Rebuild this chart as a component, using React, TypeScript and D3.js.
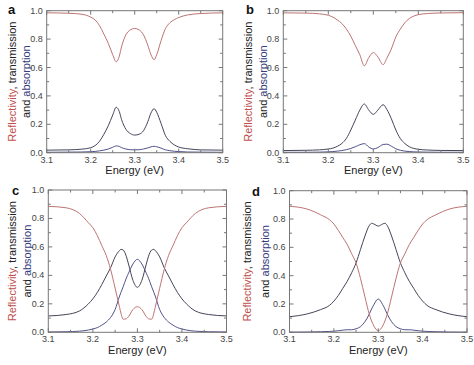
import React from 'react';
import * as d3 from 'd3';

// ---------- data ----------
const energyA = [3.10, 3.15, 3.18, 3.20, 3.21, 3.22, 3.23, 3.24, 3.25, 3.258, 3.265, 3.27, 3.28, 3.29, 3.30, 3.31, 3.32, 3.33, 3.337, 3.344, 3.35, 3.36, 3.37, 3.38, 3.39, 3.40, 3.42, 3.45, 3.50];
const reflA = [0.985, 0.982, 0.975, 0.955, 0.935, 0.895, 0.835, 0.77, 0.69, 0.64, 0.68, 0.745, 0.83, 0.865, 0.875, 0.865, 0.83, 0.755, 0.69, 0.655, 0.69, 0.79, 0.875, 0.915, 0.937, 0.952, 0.97, 0.98, 0.985];
const transA = [0.018, 0.02, 0.025, 0.035, 0.05, 0.08, 0.13, 0.19, 0.265, 0.32, 0.29, 0.235, 0.165, 0.135, 0.124, 0.13, 0.155, 0.22, 0.28, 0.31, 0.285, 0.205, 0.12, 0.08, 0.055, 0.04, 0.028, 0.02, 0.018];
const absA = [0.003, 0.004, 0.005, 0.007, 0.009, 0.013, 0.018, 0.026, 0.038, 0.048, 0.044, 0.036, 0.026, 0.021, 0.02, 0.021, 0.026, 0.034, 0.041, 0.045, 0.042, 0.032, 0.02, 0.014, 0.01, 0.008, 0.005, 0.004, 0.003];

const energyB = [3.10, 3.15, 3.18, 3.20, 3.21, 3.22, 3.23, 3.24, 3.25, 3.26, 3.27, 3.28, 3.29, 3.30, 3.31, 3.322, 3.33, 3.34, 3.35, 3.36, 3.37, 3.38, 3.39, 3.40, 3.42, 3.45, 3.50];
const reflB = [0.985, 0.983, 0.978, 0.968, 0.955, 0.935, 0.91, 0.872, 0.82, 0.755, 0.69, 0.612, 0.67, 0.705, 0.675, 0.62, 0.665, 0.73, 0.815, 0.87, 0.915, 0.945, 0.962, 0.972, 0.98, 0.984, 0.986];
const transB = [0.015, 0.017, 0.02, 0.026, 0.032, 0.045, 0.065, 0.1, 0.16, 0.23, 0.3, 0.343, 0.3, 0.27, 0.3, 0.338, 0.305, 0.24, 0.16, 0.1, 0.065, 0.042, 0.03, 0.024, 0.019, 0.016, 0.015];
const absB = [0.003, 0.003, 0.004, 0.006, 0.008, 0.011, 0.015, 0.021, 0.03, 0.042, 0.056, 0.064, 0.04, 0.026, 0.036, 0.058, 0.06, 0.046, 0.028, 0.017, 0.011, 0.008, 0.006, 0.005, 0.004, 0.003, 0.003];

const energyC = [3.10, 3.14, 3.17, 3.19, 3.20, 3.21, 3.22, 3.23, 3.24, 3.25, 3.26, 3.263, 3.268, 3.275, 3.28, 3.29, 3.30, 3.31, 3.32, 3.325, 3.332, 3.337, 3.34, 3.35, 3.36, 3.37, 3.38, 3.39, 3.40, 3.41, 3.43, 3.46, 3.50];
const reflC = [0.885, 0.875, 0.835, 0.77, 0.735, 0.68, 0.61, 0.54, 0.44, 0.31, 0.175, 0.135, 0.092, 0.095, 0.11, 0.16, 0.18, 0.16, 0.11, 0.095, 0.092, 0.135, 0.175, 0.31, 0.44, 0.54, 0.61, 0.68, 0.735, 0.77, 0.835, 0.875, 0.885];
const transC = [0.115, 0.125, 0.15, 0.2, 0.235, 0.28, 0.335, 0.395, 0.455, 0.53, 0.575, 0.583, 0.578, 0.535, 0.48, 0.365, 0.316, 0.365, 0.48, 0.535, 0.578, 0.583, 0.575, 0.53, 0.455, 0.395, 0.335, 0.28, 0.235, 0.2, 0.15, 0.125, 0.115];
const absC = [0.002, 0.004, 0.008, 0.016, 0.023, 0.033, 0.05, 0.072, 0.105, 0.16, 0.255, 0.28, 0.32, 0.38, 0.415, 0.48, 0.513, 0.48, 0.415, 0.38, 0.32, 0.28, 0.255, 0.16, 0.105, 0.072, 0.05, 0.033, 0.023, 0.016, 0.008, 0.004, 0.002];

const energyD = [3.10, 3.14, 3.17, 3.19, 3.20, 3.21, 3.22, 3.23, 3.24, 3.25, 3.26, 3.27, 3.28, 3.285, 3.29, 3.30, 3.31, 3.315, 3.32, 3.33, 3.34, 3.35, 3.36, 3.37, 3.38, 3.39, 3.40, 3.41, 3.43, 3.46, 3.50];
const reflD = [0.89, 0.87, 0.83, 0.795, 0.765, 0.72, 0.67, 0.62, 0.555, 0.49, 0.38, 0.25, 0.125, 0.08, 0.045, 0.012, 0.045, 0.08, 0.125, 0.25, 0.38, 0.49, 0.555, 0.62, 0.67, 0.72, 0.765, 0.795, 0.83, 0.87, 0.89];
const transD = [0.11, 0.13, 0.16, 0.19, 0.22, 0.26, 0.31, 0.36, 0.42, 0.49, 0.585, 0.68, 0.755, 0.77, 0.765, 0.75, 0.765, 0.77, 0.755, 0.68, 0.585, 0.49, 0.42, 0.36, 0.31, 0.26, 0.22, 0.19, 0.16, 0.13, 0.11];
const absD = [0.001, 0.002, 0.004, 0.006, 0.008, 0.011, 0.015, 0.018, 0.018, 0.025, 0.04, 0.075, 0.13, 0.165, 0.195, 0.235, 0.195, 0.165, 0.13, 0.075, 0.04, 0.025, 0.018, 0.018, 0.015, 0.011, 0.008, 0.006, 0.004, 0.002, 0.001];

const xTicks = [3.1, 3.2, 3.3, 3.4, 3.5];
const xMinorTicks = [3.15, 3.25, 3.35, 3.45];
const yTicks = [0, 0.2, 0.4, 0.6, 0.8, 1.0];
const yMinorTicks = [0.1, 0.3, 0.5, 0.7, 0.9];

// ---------- styles ----------
const FONT = '"Liberation Sans", Arial, Helvetica, sans-serif';
const RED = '#bd7473';
const TRANS = '#45455a';
const ABS = '#52528a';
const FRAME = '#777';
const LABEL_RED = '#c0504d';
const LABEL_BLUE = '#343a7c';

type PanelProps = {
  x0: number; x1: number; y0: number; y1: number;
  energy: number[]; refl: number[]; trans: number[]; abs: number[];
  letter: string; lx: number; ly: number;
  l1: number; l2: number; tickDy: number; titleY: number;
};

function Panel(p: PanelProps) {
  const xs = d3.scaleLinear().domain([3.1, 3.5]).range([p.x0, p.x1]);
  const ys = d3.scaleLinear().domain([0, 1]).range([p.y1, p.y0]);
  const mk = (vals: number[]) =>
    d3.line<number>()
      .x((_, i) => xs(p.energy[i]))
      .y((d) => ys(d))
      .curve(d3.curveMonotoneX)(vals) || '';
  const cy = (p.y0 + p.y1) / 2;
  const cx = (p.x0 + p.x1) / 2;
  const MAJ = 4, MIN = 2.5;
  return (
    <g fontFamily={FONT}>
      <path d={mk(p.abs)} fill="none" stroke={ABS} strokeWidth={1} />
      <path d={mk(p.trans)} fill="none" stroke={TRANS} strokeWidth={1} />
      <path d={mk(p.refl)} fill="none" stroke={RED} strokeWidth={1} />
      <rect x={p.x0} y={p.y0} width={p.x1 - p.x0} height={p.y1 - p.y0} fill="none" stroke={FRAME} strokeWidth={1} />
      {xTicks.map((t) => (
        <g key={'xt' + t}>
          <line x1={xs(t)} x2={xs(t)} y1={p.y1} y2={p.y1 - MAJ} stroke={FRAME} />
          <line x1={xs(t)} x2={xs(t)} y1={p.y0} y2={p.y0 + MAJ} stroke={FRAME} />
          <text x={xs(t)} y={p.y1 + p.tickDy} textAnchor="middle" fontSize={9} fill="#444">{t.toFixed(1)}</text>
        </g>
      ))}
      {xMinorTicks.map((t) => (
        <g key={'xm' + t}>
          <line x1={xs(t)} x2={xs(t)} y1={p.y1} y2={p.y1 - MIN} stroke={FRAME} />
          <line x1={xs(t)} x2={xs(t)} y1={p.y0} y2={p.y0 + MIN} stroke={FRAME} />
        </g>
      ))}
      {yTicks.map((t) => (
        <g key={'yt' + t}>
          <line x1={p.x0} x2={p.x0 + MAJ} y1={ys(t)} y2={ys(t)} stroke={FRAME} />
          <line x1={p.x1} x2={p.x1 - MAJ} y1={ys(t)} y2={ys(t)} stroke={FRAME} />
          <text x={p.x0 - 4} y={ys(t) + 3} textAnchor="end" fontSize={9} fill="#444">{t.toFixed(1)}</text>
        </g>
      ))}
      {yMinorTicks.map((t) => (
        <g key={'ym' + t}>
          <line x1={p.x0} x2={p.x0 + MIN} y1={ys(t)} y2={ys(t)} stroke={FRAME} />
          <line x1={p.x1} x2={p.x1 - MIN} y1={ys(t)} y2={ys(t)} stroke={FRAME} />
        </g>
      ))}
      <text x={cx} y={p.titleY} textAnchor="middle" fontSize={11} fill="#222">Energy (eV)</text>
      <text transform={`translate(${p.l1},${cy}) rotate(-90)`} textAnchor="middle" fontSize={11}>
        <tspan fill={LABEL_RED}>Reflectivity</tspan>
        <tspan fill="#222">, transmission</tspan>
      </text>
      <text transform={`translate(${p.l2},${cy}) rotate(-90)`} textAnchor="middle" fontSize={11}>
        <tspan fill="#222">and </tspan>
        <tspan fill={LABEL_BLUE}>absorption</tspan>
      </text>
      <text x={p.lx} y={p.ly} fontSize={13} fontWeight="bold" fill="#111">{p.letter}</text>
    </g>
  );
}

export default function App() {
  return (
    <svg width={474} height={365} style={{ position: 'absolute', left: 0, top: 0, background: '#fff' }}>
      <rect x={0} y={0} width={474} height={365} fill="#fff" />
      <Panel x0={46.7} x1={222.7} y0={10.7} y1={152.7} energy={energyA} refl={reflA} trans={transA} abs={absA}
        letter="a" lx={8} ly={13.5} l1={15.5} l2={29.5} tickDy={10.5} titleY={174} />
      <Panel x0={283.3} x1={463.3} y0={10.7} y1={152.7} energy={energyB} refl={reflB} trans={transB} abs={absB}
        letter="b" lx={246} ly={13.5} l1={251.5} l2={266.5} tickDy={10.5} titleY={174} />
      <Panel x0={48.3} x1={226.5} y0={190} y1={332.3} energy={energyC} refl={reflC} trans={transC} abs={absC}
        letter="c" lx={12} ly={195} l1={15.5} l2={30.5} tickDy={9.5} titleY={354} />
      <Panel x0={289.5} x1={467} y0={190.7} y1={332.3} energy={energyD} refl={reflD} trans={transD} abs={absD}
        letter="d" lx={252} ly={196} l1={250.5} l2={269} tickDy={9.5} titleY={354} />
    </svg>
  );
}
